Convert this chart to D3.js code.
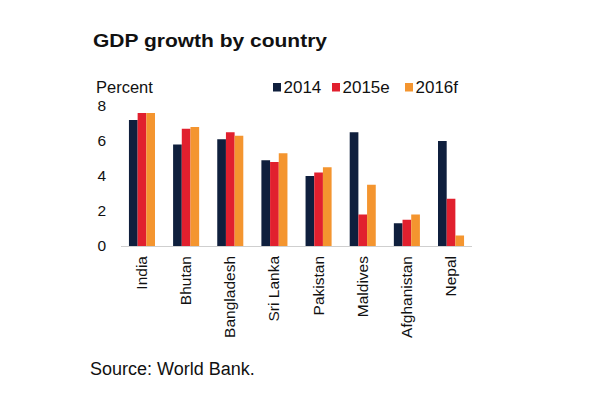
<!DOCTYPE html>
<html>
<head>
<meta charset="utf-8">
<script src="https://cdn.jsdelivr.net/npm/d3@7"></script>
<style>
	body { margin: 0; background: #fff; }
	text { font-family: 'Liberation Sans', Arial, sans-serif; fill: #111; }
</style>
</head>
<body>
<div id="canvas"></div>
<script>
const countries = ['India', 'Bhutan', 'Bangladesh', 'Sri Lanka', 'Pakistan', 'Maldives', 'Afghanistan', 'Nepal'];
const seriesNames = ['2014', '2015e', '2016f'];
const gdp2014 = [7.2, 5.8, 6.1, 4.9, 4.0, 6.5, 1.3, 6.0];
const gdp2015 = [7.6, 6.7, 6.5, 4.8, 4.2, 1.8, 1.5, 2.7];
const gdp2016 = [7.6, 6.8, 6.3, 5.3, 4.5, 3.5, 1.8, 0.6];
const yTicks = [0, 2, 4, 6, 8];
const colors = ['#0f1f3d', '#e1202e', '#f4952f'];

const width = 602;
const height = 401;
const values = [gdp2014, gdp2015, gdp2016];

const data = countries.map((c, i) => ({
	country: c,
	vals: seriesNames.map((s, j) => ({ key: s, value: values[j][i] })),
}));

const svg = d3.select('#canvas').append('svg').attr('width', width).attr('height', height);

const x = d3.scaleBand().domain(countries).range([121, 472]).paddingInner(0.41).paddingOuter(0.18);
const xSub = d3.scaleBand().domain(seriesNames).range([0, x.bandwidth()]);
const y = d3.scaleLinear().domain([0, 8]).range([246, 106]);

// title (wide face in the original, stretched to match)
svg.append('text')
	.attr('x', 93).attr('y', 47)
	.attr('font-size', 17.5).attr('font-weight', 'bold')
	.attr('textLength', 234).attr('lengthAdjust', 'spacingAndGlyphs')
	.text('GDP growth by country');

svg.append('text')
	.attr('x', 96).attr('y', 93)
	.attr('font-size', 16.5)
	.text('Percent');

// legend
const legendX = [273, 332, 405];
const legend = svg.append('g').selectAll('g')
	.data(seriesNames)
	.join('g')
	.attr('transform', (d, i) => `translate(${legendX[i]},83)`);
legend.append('rect').attr('width', 8).attr('height', 8.5).attr('fill', (d, i) => colors[i]);
legend.append('text').attr('x', 10.5).attr('y', 9.5).attr('font-size', 17).text(d => d);

// y axis labels
const yAxis = svg.append('g').attr('transform', 'translate(106,0)')
	.call(d3.axisLeft(y).tickValues(yTicks).tickSize(0).tickPadding(0));
yAxis.select('.domain').remove();
yAxis.selectAll('text').attr('font-size', 15.5).attr('fill', '#111')
	.style('font-family', "'Liberation Sans', Arial, sans-serif");

// bars
svg.append('g').selectAll('g')
	.data(data)
	.join('g')
	.attr('transform', d => `translate(${x(d.country)},0)`)
	.selectAll('rect')
	.data(d => d.vals)
	.join('rect')
	.attr('x', d => xSub(d.key))
	.attr('width', xSub.bandwidth())
	.attr('y', d => y(d.value))
	.attr('height', d => y(0) - y(d.value))
	.attr('fill', (d, i) => colors[i]);

// x axis
const xAxis = svg.append('g').attr('transform', `translate(0,${y(0)})`)
	.call(d3.axisBottom(x).tickSize(0).tickPadding(0));
xAxis.select('.domain').attr('stroke', '#cfcfcf').attr('d', 'M121,0.5H472');
xAxis.selectAll('text')
	.attr('font-size', 15.5).attr('fill', '#111')
	.style('font-family', "'Liberation Sans', Arial, sans-serif")
	.attr('text-anchor', 'end')
	.attr('dy', null)
	.attr('transform', 'translate(5,10) rotate(-90)')
	.attr('y', 0).attr('x', 0);

// source
svg.append('text')
	.attr('x', 90).attr('y', 375)
	.attr('font-size', 18)
	.text('Source: World Bank.');
</script>
</body>
</html>
